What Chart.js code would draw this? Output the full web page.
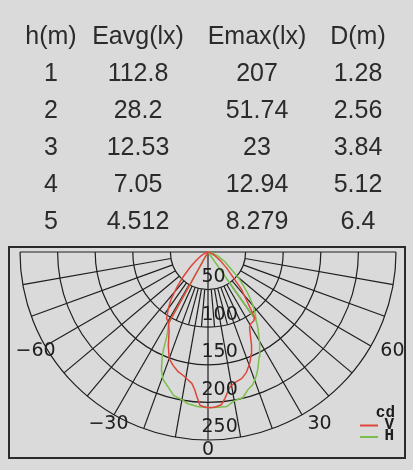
<!DOCTYPE html>
<html><head><meta charset="utf-8">
<script src="https://cdn.jsdelivr.net/npm/chart.js@4/dist/chart.umd.min.js"></script>
<style>
html,body{margin:0;padding:0;background:#dadada;}
#wrap{position:relative;width:413px;height:470px;overflow:hidden;background:#dadada;}
#tbl{position:absolute;left:0;top:0;width:413px;height:240px;font-family:"Liberation Sans",Arial,sans-serif;font-size:25px;color:#2b2b2b;}
.cell{position:absolute;width:140px;height:25px;line-height:25px;text-align:center;white-space:nowrap;}
canvas{position:absolute;left:0;top:0;}
</style></head><body>
<div id="wrap"><canvas id="c" width="413" height="470"></canvas><div id="tbl"></div></div>
<script>
// ---- data ----
const tableHeaders = ["h(m)", "Eavg(lx)", "Emax(lx)", "D(m)"];
const heights = [1, 2, 3, 4, 5];
const eavg = [112.8, 28.2, 12.53, 7.05, 4.512];
const emax = [207, 51.74, 23, 12.94, 8.279];
const dist = [1.28, 2.56, 3.84, 5.12, 6.4];

const ringValues = [50, 100, 150, 200, 250];      // cd
const angleTicks = [-60, -30, 0, 30, 60];          // degrees

const vAngles = [-29, -90, -75, -62, -55, -50, -45, -42, -38, -35, -32, -29, -26, -23, -20, -17, -14, -11, -9, -7, -5.5, -4.5, -3, -1.5, 0, 1.5, 3, 5, 6.6, 8, 9.5, 12, 15, 17.7, 20, 21.5, 23, 25, 27, 29, 31, 33.5, 35.5, 38, 42, 46, 49.5, 55, 62, 75, 90];
const vValues = [108, 0, 3, 10, 18, 30, 47, 60, 80, 92, 104, 108, 118, 135, 151, 158, 164, 168, 172, 176, 184, 192, 204, 206, 207, 207, 206, 204, 196, 188, 181, 177, 174, 168, 160, 154, 147, 137, 124, 114, 111, 110, 107, 86, 66, 42, 32, 20, 10, 3, 0];

const hAngles = [-90, -35, -29, -27, -26, -24.5, -23.5, -21.5, -19.3, -15.5, -13.5, -9.5, -8, -4, 0, 4, 7, 10, 13.5, 16, 18.7, 21.5, 23.3, 26, 28, 29.5, 33.3, 35, 37.5, 40.3, 43.5, 46.7, 50, 53.5, 60, 67, 75, 90, 35];
const hValues = [0, 0, 108, 118, 125, 143, 153, 169, 180, 190, 196, 200, 203, 206, 207, 207, 207, 201, 199, 191, 186, 176, 168, 155, 146, 140, 121, 112, 103, 92, 78, 64, 52, 38, 26, 15, 7, 0, 112];

// ---- table (HTML text) ----
const colCenters = [51, 138, 257, 358];
const rowBaselines = [44.3, 81.3, 118.3, 155.3, 192.3, 229.3];
const tbl = document.getElementById('tbl');
function addCell(txt, col, row) {
  const d = document.createElement('div');
  d.className = 'cell';
  d.textContent = txt;
  d.style.left = (colCenters[col] - 70) + 'px';
  d.style.top = (rowBaselines[row] - 21.2) + 'px';
  tbl.appendChild(d);
}
tableHeaders.forEach((h, i) => addCell(h, i, 0));
heights.forEach((h, r) => {
  addCell(String(h), 0, r + 1);
  addCell(String(eavg[r]), 1, r + 1);
  addCell(String(emax[r]), 2, r + 1);
  addCell(String(dist[r]), 3, r + 1);
});

// ---- polar chart ----
const PX_PER_CD = 0.752;
const frame = { left: 9, top: 247, right: 405, bottom: 458 };
const center = { x: 208, y: 252 };
const xMin = -(center.x - frame.left) / PX_PER_CD;
const xMax = (frame.right - center.x) / PX_PER_CD;
const yMax = (center.y - frame.top) / PX_PER_CD;
const yMin = -(frame.bottom - center.y) / PX_PER_CD;

const RAD = Math.PI / 180;
function toXY(angles, values) {
  return angles.map((a, i) => ({ x: values[i] * Math.sin(a * RAD), y: -values[i] * Math.cos(a * RAD) }));
}
const RED = '#e0443a', GREEN = '#7bbf4d', INK = '#1e1e1e';

const gridPlugin = {
  id: 'polarGrid',
  beforeDatasetsDraw(chart) {
    const ctx = chart.ctx, xs = chart.scales.x, ys = chart.scales.y;
    const cx = xs.getPixelForValue(0), cy = ys.getPixelForValue(0);
    const k = xs.getPixelForValue(1) - cx;
    const maxR = ringValues[ringValues.length - 1];
    const pt = (a, r) => [cx + r * k * Math.sin(a * RAD), cy + r * k * Math.cos(a * RAD)];
    ctx.save();
    ctx.strokeStyle = INK; ctx.lineWidth = 1.2;
    ringValues.forEach(v => { ctx.beginPath(); ctx.arc(cx, cy, v * k, 0, Math.PI, false); ctx.stroke(); });
    ctx.beginPath(); ctx.moveTo(cx - maxR * k, cy); ctx.lineTo(cx + maxR * k, cy); ctx.stroke();
    for (let a = -80; a <= 80; a += 5) {
      const major = a % 10 === 0;
      if (!major && Math.abs(a) > 40) continue;
      const r0 = a === 0 ? 0 : ringValues[0];
      const r1 = major ? maxR : ringValues[1];
      const p0 = pt(a, r0), p1 = pt(a, r1);
      ctx.beginPath(); ctx.moveTo(p0[0], p0[1]); ctx.lineTo(p1[0], p1[1]); ctx.stroke();
    }
    // frame
    const ca = chart.chartArea;
    ctx.lineWidth = 2; ctx.strokeStyle = '#2a2a2a';
    ctx.strokeRect(ca.left, ca.top, ca.right - ca.left, ca.bottom - ca.top);
    ctx.restore();
  },
  afterDatasetsDraw(chart) {
    const ctx = chart.ctx, xs = chart.scales.x, ys = chart.scales.y;
    const cx = xs.getPixelForValue(0), cy = ys.getPixelForValue(0);
    const k = xs.getPixelForValue(1) - cx;
    ctx.save();
    ctx.fillStyle = '#1e1e1e';
    ctx.font = '19px "DejaVu Sans"';
    ctx.textBaseline = 'middle';
    ctx.textAlign = 'left';
    ringValues.forEach(v => ctx.fillText(String(v), cx - 6.5, cy + v * k - 12.5));
    const R = 199;
    angleTicks.forEach(a => {
      const x = cx + R * Math.sin(a * RAD), y = cy + R * Math.cos(a * RAD) - 0.5;
      ctx.textAlign = a > 0 ? 'left' : 'center';
      ctx.fillText(a < 0 ? '\u2212' + Math.abs(a) : String(a), x, y);
    });
    // legend
    const ca = chart.chartArea;
    const rx = ca.right - 10;
    ctx.font = 'bold 16px "Liberation Mono"';
    ctx.textAlign = 'right';
    ctx.textBaseline = 'alphabetic';
    ctx.fillText('cd', rx, ca.bottom - 41);
    chart.data.datasets.forEach((ds, i) => {
      const by = ca.bottom - 29.5 + i * 11.5;
      ctx.fillStyle = '#1e1e1e';
      ctx.fillText(ds.label, rx - 1, by);
      ctx.strokeStyle = ds.borderColor; ctx.lineWidth = 2;
      ctx.beginPath(); ctx.moveTo(rx - 35, by - 3); ctx.lineTo(rx - 17, by - 3); ctx.stroke();
    });
    ctx.restore();
  }
};

new Chart(document.getElementById('c'), {
  type: 'scatter',
  data: {
    datasets: [
      { label: 'V', data: toXY(vAngles, vValues), showLine: true, borderColor: RED, backgroundColor: RED, borderWidth: 1.5, pointRadius: 0, tension: 0 },
      { label: 'H', data: toXY(hAngles, hValues), showLine: true, borderColor: GREEN, backgroundColor: GREEN, borderWidth: 1.5, pointRadius: 0, tension: 0 }
    ]
  },
  options: {
    responsive: false,
    devicePixelRatio: 1,
    animation: false,
    layout: { padding: { left: frame.left, top: frame.top, right: 413 - frame.right, bottom: 470 - frame.bottom } },
    scales: {
      x: { type: 'linear', min: xMin, max: xMax, display: false },
      y: { type: 'linear', min: yMin, max: yMax, display: false }
    },
    plugins: { legend: { display: false }, tooltip: { enabled: false } },
    elements: { line: { borderJoinStyle: 'round' } }
  },
  plugins: [gridPlugin]
});
</script>
</body></html>
